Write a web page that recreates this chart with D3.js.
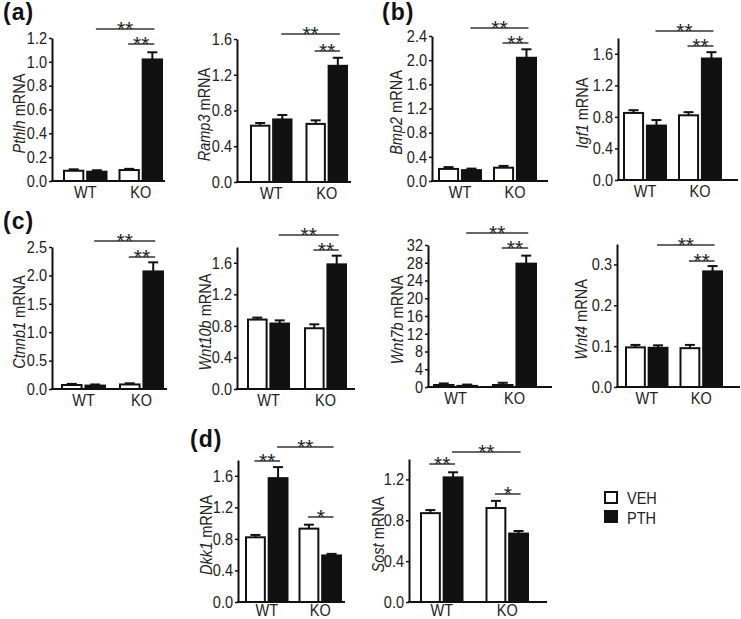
<!DOCTYPE html>
<html><head><meta charset="utf-8">
<script src="https://cdn.jsdelivr.net/npm/d3@7"></script>
<style>
body{margin:0;background:#fff;}
svg{display:block;font-family:"Liberation Sans",Arial,sans-serif;}
</style></head>
<body>
<svg id="chart" width="741" height="619"></svg>
<script>
// ---------- data ----------
const groups = ["WT", "KO"];
const treatments = ["VEH", "PTH"];
const genes = ["Pthlh","Ramp3","Bmp2","Igf1","Ctnnb1","Wnt10b","Wnt7b","Wnt4","Dkk1","Sost"];
// order of each row: WT-VEH, WT-PTH, KO-VEH, KO-PTH
const meanValues = [
  [0.086, 0.078, 0.092, 1.02],
  [0.63, 0.70, 0.65, 1.30],
  [0.20, 0.18, 0.22, 2.04],
  [0.85, 0.69, 0.82, 1.54],
  [0.07, 0.06, 0.08, 2.07],
  [0.88, 0.83, 0.77, 1.58],
  [0.45, 0.25, 0.45, 27.8],
  [0.097, 0.096, 0.095, 0.283],
  [0.82, 1.57, 0.93, 0.59],
  [0.87, 1.22, 0.92, 0.67]
];
const errValues = [
  [0.012, 0.012, 0.01, 0.06],
  [0.03, 0.05, 0.04, 0.09],
  [0.03, 0.025, 0.03, 0.14],
  [0.035, 0.07, 0.04, 0.08],
  [0.02, 0.02, 0.02, 0.16],
  [0.025, 0.04, 0.05, 0.11],
  [0.35, 0.3, 0.5, 1.8],
  [0.006, 0.006, 0.008, 0.013],
  [0.03, 0.14, 0.05, 0.02],
  [0.03, 0.05, 0.07, 0.025]
];
const yMaxValues = [1.2, 1.6, 2.4, 1.8, 2.5, 1.8, 32, 0.35, 1.8, 1.4];
const yTickValues = [
  [0, 0.2, 0.4, 0.6, 0.8, 1.0, 1.2],
  [0, 0.4, 0.8, 1.2, 1.6],
  [0, 0.4, 0.8, 1.2, 1.6, 2.0, 2.4],
  [0, 0.4, 0.8, 1.2, 1.6],
  [0, 0.5, 1.0, 1.5, 2.0, 2.5],
  [0, 0.4, 0.8, 1.2, 1.6],
  [0, 4, 8, 12, 16, 20, 24, 28, 32],
  [0, 0.1, 0.2, 0.3],
  [0, 0.4, 0.8, 1.2, 1.6],
  [0, 0.4, 0.8, 1.2]
];
const tickFormats = [".1f",".1f",".1f",".1f",".1f",".1f","d",".1f",".1f",".1f"];
// significance comparisons: [from bar, to bar, label]
const upperRowBrackets = [[2, 3, "**"], [1, 3, "**"]];
const lowerRowBrackets = [[0, 1, "**"], [1, 3, "**"], [2, 3, "*"]];
const panelLetters = ["(a)", "(b)", "(c)", "(d)"];

// ---------- layout ----------
const layout = [
  {ax:52,  xEnd:165, yTop:38,  yBot:181, barL:63,  barR:163, gap:11, lab:27, gl:17, by:[44,29]},
  {ax:237, xEnd:351, yTop:39,  yBot:182, barL:250, barR:348, gap:13, lab:27, gl:17, by:[51,34]},
  {ax:432, xEnd:548, yTop:36,  yBot:181, barL:438, barR:537, gap:11, lab:30, gl:17, by:[43,28]},
  {ax:618, xEnd:738, yTop:38,  yBot:180, barL:623, barR:722, gap:11, lab:30, gl:17, by:[46,31]},
  {ax:52,  xEnd:167, yTop:247, yBot:389, barL:61,  barR:164, gap:13, lab:27, gl:17, by:[257,241]},
  {ax:237, xEnd:355, yTop:247, yBot:389, barL:247, barR:347, gap:14, lab:26, gl:17, by:[250,235]},
  {ax:428, xEnd:552, yTop:245, yBot:387, barL:433, barR:537, gap:14, lab:25, gl:17, by:[248,233]},
  {ax:617, xEnd:740, yTop:244, yBot:387, barL:625, barR:723, gap:11, lab:30, gl:17, by:[261,245]},
  {ax:238, xEnd:345, yTop:460, yBot:602, barL:245, barR:342, gap:10, lab:26, gl:14, by:[461,447,517]},
  {ax:409, xEnd:547, yTop:459, yBot:602, barL:420, barR:529, gap:22, lab:25, gl:14, by:[464,452,494]}
];
const letterPos = [[3,20],[382,20],[3,229],[190,447]];

const svg = d3.select("#chart");
const FS = 16.5;
const SX = 0.88; // horizontal condensing of the Helvetica-like lettering

genes.forEach((gene, gi) => {
  const L = layout[gi];
  const g = svg.append("g");
  const y = d3.scaleLinear().domain([0, yMaxValues[gi]]).range([L.yBot, L.yTop]);
  const span = L.barR - L.barL;
  const bw = (span - L.gap) / 2;
  const xg = d3.scaleBand().domain(groups).range([L.barL, L.barR])
    .paddingInner(L.gap / (bw + L.gap)).paddingOuter(0);
  const xs = d3.scaleBand().domain(treatments).range([0, xg.bandwidth()]).paddingInner(0.08);

  const rows = [];
  groups.forEach((grp, a) => treatments.forEach((tr, b) => {
    const k = a * 2 + b;
    rows.push({grp, tr, v: meanValues[gi][k], e: errValues[gi][k],
      x: xg(grp) + xs(tr), w: xs.bandwidth()});
  }));

  // error bars
  rows.forEach(d => {
    const cx = d.x + d.w / 2;
    g.append("line").attr("x1", cx).attr("x2", cx)
      .attr("y1", y(d.v)).attr("y2", y(d.v + d.e))
      .attr("stroke", "#111").attr("stroke-width", 2);
    g.append("line").attr("x1", cx - 5).attr("x2", cx + 5)
      .attr("y1", y(d.v + d.e)).attr("y2", y(d.v + d.e))
      .attr("stroke", "#111").attr("stroke-width", 2);
  });
  // bars
  g.selectAll("rect.bar").data(rows).enter().append("rect")
    .attr("x", d => d.x + 1).attr("width", d => d.w - 2)
    .attr("y", d => y(d.v)).attr("height", d => y(0) - y(d.v))
    .attr("fill", d => d.tr === "VEH" ? "#fff" : "#111")
    .attr("stroke", "#111").attr("stroke-width", 2);

  // y axis
  const yAxis = d3.axisLeft(y).tickValues(yTickValues[gi])
    .tickFormat(d3.format(tickFormats[gi])).tickSize(3).tickPadding(1).tickSizeOuter(0);
  const ya = g.append("g").attr("transform", `translate(${L.ax},0)`).call(yAxis);
  ya.attr("font-family", null).attr("font-size", null);
  ya.select(".domain").attr("stroke", "#111").attr("stroke-width", 2);
  ya.selectAll(".tick line").attr("stroke", "#111").attr("stroke-width", 1.5);
  ya.selectAll(".tick text").attr("font-size", FS).attr("fill", "#222")
    .attr("x", -5 / SX).attr("transform", `scale(${SX},1)`);

  // x axis line + group labels
  g.append("line").attr("x1", L.ax - 1).attr("x2", L.xEnd)
    .attr("y1", L.yBot).attr("y2", L.yBot).attr("stroke", "#111").attr("stroke-width", 2);
  groups.forEach(grp => {
    g.append("text")
      .attr("transform", `translate(${xg(grp) + xg.bandwidth() / 2},${L.yBot + L.gl}) scale(${SX},1)`)
      .attr("text-anchor", "middle").attr("font-size", FS).attr("fill", "#222").text(grp);
  });

  // y axis title
  const cy = (L.yTop + L.yBot) / 2 + 4;
  const t = g.append("text")
    .attr("transform", `translate(${L.ax - L.lab},${cy}) rotate(-90) scale(${SX},1)`)
    .attr("text-anchor", "middle").attr("font-size", FS).attr("fill", "#222");
  t.append("tspan").attr("font-style", "italic").text(gene);
  t.append("tspan").text(" mRNA");

  // significance brackets
  const brs = gi < 8 ? upperRowBrackets : lowerRowBrackets;
  brs.forEach((b, bi) => {
    const r0 = rows[b[0]], r1 = rows[b[1]];
    const x0 = r0.x + r0.w / 2 - 1, x1 = r1.x + r1.w / 2 + 2;
    const ly = L.by[bi];
    g.append("line").attr("x1", x0).attr("x2", x1).attr("y1", ly).attr("y2", ly)
      .attr("stroke", "#333").attr("stroke-width", 1.5);
    g.append("text").attr("x", (x0 + x1) / 2).attr("y", ly + 7)
      .attr("text-anchor", "middle").attr("font-size", 21).attr("fill", "#222").text(b[2]);
  });
});

// panel letters
panelLetters.forEach((s, i) => {
  svg.append("text").attr("x", letterPos[i][0]).attr("y", letterPos[i][1])
    .attr("font-size", 23).attr("font-weight", "bold").attr("letter-spacing", 1)
    .attr("fill", "#111").text(s);
});

// legend
const legend = svg.append("g");
treatments.forEach((tr, i) => {
  legend.append("rect").attr("x", 605).attr("y", 492 + i * 19).attr("width", 12).attr("height", 11)
    .attr("fill", tr === "VEH" ? "#fff" : "#111").attr("stroke", "#111").attr("stroke-width", 2);
  legend.append("text").attr("transform", `translate(627,${504 + i * 20}) scale(${SX},1)`)
    .attr("font-size", FS).attr("fill", "#222").text(tr);
});
</script>
</body></html>
